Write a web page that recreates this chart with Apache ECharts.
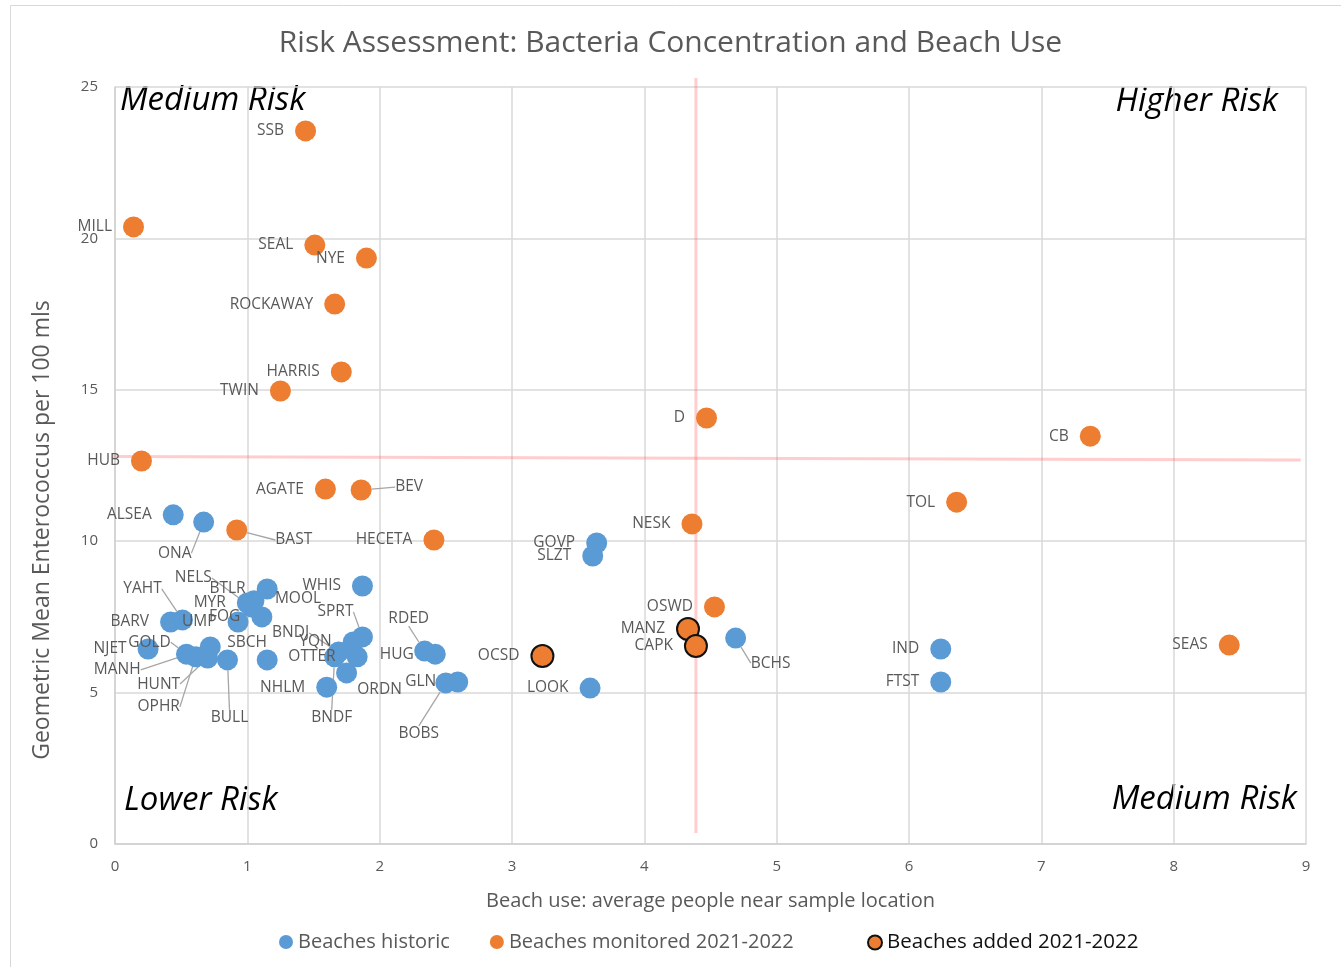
<!DOCTYPE html>
<html>
<head>
<meta charset="utf-8">
<script src="https://cdn.jsdelivr.net/npm/echarts@6/dist/echarts.min.js"></script>
<style>
  html, body { margin: 0; padding: 0; background: #fff; }
  #main { width: 1341px; height: 967px; }
</style>
</head>
<body>
<div id="main"></div>
<script>
// Beaches historic
var historicNames = ['ALSEA', 'ONA', 'GOVP', 'SLZT', 'WHIS', 'BTLR', 'MYR', 'NELS', 'MOOL', 'FOG',
  'UMP', 'BARV', 'YAHT', 'NJET', 'GOLD', 'OPHR', 'MANH', 'HUNT', 'BULL', 'SBCH',
  'NHLM', 'BNDF', 'BNDJ', 'YQN', 'OTTER', 'SPRT', 'ORDN', 'RDED', 'HUG', 'BOBS',
  'GLN', 'LOOK', 'BCHS', 'IND', 'FTST'];
var historicX = [0.44, 0.67, 3.64, 3.61, 1.87, 1.15, 1.00, 1.03, 1.05, 1.11,
  0.93, 0.42, 0.51, 0.25, 0.54, 0.61, 0.72, 0.70, 0.85, 1.15,
  1.60, 1.66, 1.69, 1.80, 1.83, 1.87, 1.75, 2.34, 2.42, 2.50,
  2.59, 3.59, 4.69, 6.24, 6.24];
var historicY = [10.87, 10.63, 9.94, 9.51, 8.52, 8.42, 7.96, 7.83, 8.03, 7.50,
  7.33, 7.33, 7.40, 6.44, 6.27, 6.18, 6.51, 6.14, 6.08, 6.08,
  5.18, 6.18, 6.34, 6.67, 6.18, 6.84, 5.65, 6.37, 6.27, 5.32,
  5.35, 5.15, 6.80, 6.44, 5.35];

// Beaches monitored 2021-2022
var monitoredNames = ['SSB', 'MILL', 'SEAL', 'NYE', 'ROCKAWAY', 'HARRIS', 'TWIN', 'HUB', 'AGATE', 'BEV',
  'BAST', 'HECETA', 'D', 'CB', 'TOL', 'NESK', 'OSWD', 'SEAS'];
var monitoredX = [1.44, 0.14, 1.51, 1.90, 1.66, 1.71, 1.25, 0.20, 1.59, 1.86,
  0.92, 2.41, 4.47, 7.37, 6.36, 4.36, 4.53, 8.42];
var monitoredY = [23.55, 20.38, 19.78, 19.35, 17.83, 15.59, 14.96, 12.65, 11.72, 11.69,
  10.37, 10.04, 14.07, 13.47, 11.29, 10.57, 7.83, 6.57];

// Beaches added 2021-2022
var addedNames = ['OCSD', 'MANZ', 'CAPK'];
var addedX = [3.23, 4.33, 4.39];
var addedY = [6.21, 7.10, 6.54];

// quadrant divider lines (from / to)
var splitV = [[4.39, 0.36], [4.39, 25.3]];
var splitH = [[-0.1, 12.80], [8.96, 12.68]];

var xTicks = [0, 1, 2, 3, 4, 5, 6, 7, 8, 9];
var yTicks = [0, 5, 10, 15, 20, 25];

// labels not placed on the left of their point: [dx, dy, leader line]
var labelShift = {
  BEV: [48, -3, true], BAST: [57, 10, true], ONA: [-29, 31, true],
  BCHS: [35, 25, true], RDED: [-16, -33, true], BOBS: [-27, 51, true],
  BULL: [2, 58, true], BNDF: [-3, 61, true], SPRT: [-27, -25, true],
  ORDN: [33, 17, false], NELS: [-58, -29, true], MOOL: [44, -2, false],
  YAHT: [-40, -31, true], GOLD: [-37, -12, true], MANH: [-93, 23, true],
  HUNT: [-49, 26, true], OPHR: [-37, 50, true], SBCH: [-20, -17, false],
  BNDJ: [-48, -19, true]
};

var FONT = '"Open Sans", "Noto Sans", sans-serif';
var GREY = '#595959';

function buildData(names, xs, ys) {
  return names.map(function (n, i) {
    var item = { name: n, value: [xs[i], ys[i]] };
    var s = labelShift[n];
    if (s && s[2]) {
      item.labelLine = { show: true };
    }
    return item;
  });
}

function placeLabel(params) {
  var s = labelShift[params.text];
  if (!s) return {};
  var cx = params.rect.x + params.rect.width / 2;
  var cy = params.rect.y + params.rect.height / 2;
  return { x: cx + s[0], y: cy + s[1], align: 'center', verticalAlign: 'middle' };
}

var pointLabel = {
  show: true,
  position: 'left',
  distance: 11,
  formatter: '{b}',
  color: GREY,
  fontSize: 15.5,
  fontFamily: FONT
};
var leader = { show: false, lineStyle: { color: '#a6a6a6', width: 1.3 } };

function splitLine(pts) {
  return {
    type: 'line',
    silent: true,
    clip: false,
    symbol: 'none',
    z: 1,
    lineStyle: { color: 'rgba(255, 90, 90, 0.3)', width: 3 },
    data: pts
  };
}

var chart = echarts.init(document.getElementById('main'));
var option = {
  animation: false,
  backgroundColor: '#fff',
  title: {
    text: 'Risk Assessment: Bacteria Concentration and Beach Use',
    left: 'center',
    top: 23,
    textStyle: { color: GREY, fontSize: 30, fontWeight: 'normal', fontFamily: FONT }
  },
  grid: { left: 115, right: 35, top: 87, bottom: 123 },
  legend: [
    {
      left: 274, top: 927,
      icon: 'circle', itemWidth: 14, itemHeight: 14, itemGap: 40,
      textStyle: { color: GREY, fontSize: 20, fontFamily: FONT },
      data: ['Beaches historic', 'Beaches monitored 2021-2022']
    },
    {
      left: 862, top: 927,
      icon: 'circle', itemWidth: 14, itemHeight: 14,
      textStyle: { color: '#111', fontSize: 20.5, fontFamily: FONT },
      data: ['Beaches added 2021-2022']
    }
  ],
  xAxis: {
    type: 'value',
    min: xTicks[0], max: xTicks[xTicks.length - 1], interval: 1,
    name: 'Beach use: average people near sample location',
    nameLocation: 'middle', nameGap: 47,
    nameTextStyle: { color: GREY, fontSize: 20, fontFamily: FONT },
    axisLine: { show: true, lineStyle: { color: '#d0d0d0', width: 1.5 } },
    axisTick: { show: false },
    axisLabel: { color: GREY, fontSize: 15, fontFamily: FONT, margin: 15 },
    splitLine: { show: true, lineStyle: { color: '#d9d9d9', width: 1.5 } }
  },
  yAxis: {
    type: 'value',
    min: yTicks[0], max: yTicks[yTicks.length - 1], interval: 5,
    axisLine: { show: true, lineStyle: { color: '#d0d0d0', width: 1.5 } },
    axisTick: { show: false },
    axisLabel: { color: GREY, fontSize: 15, fontFamily: FONT, margin: 17 },
    splitLine: { show: true, lineStyle: { color: '#d9d9d9', width: 1.5 } }
  },
  series: [
    splitLine(splitV),
    splitLine(splitH),
    {
      name: 'Beaches historic',
      type: 'scatter',
      symbolSize: 21,
      z: 3,
      itemStyle: { color: '#5b9bd5', opacity: 1 },
      label: pointLabel,
      labelLine: leader,
      labelLayout: placeLabel,
      data: buildData(historicNames, historicX, historicY)
    },
    {
      name: 'Beaches monitored 2021-2022',
      type: 'scatter',
      symbolSize: 21,
      z: 3,
      itemStyle: { color: '#ed7d31', opacity: 1 },
      label: pointLabel,
      labelLine: leader,
      labelLayout: placeLabel,
      data: buildData(monitoredNames, monitoredX, monitoredY)
    },
    {
      name: 'Beaches added 2021-2022',
      type: 'scatter',
      symbolSize: 22,
      z: 3,
      itemStyle: { color: '#ed7d31', borderColor: '#111', borderWidth: 2, opacity: 1 },
      label: pointLabel,
      labelLine: leader,
      labelLayout: placeLabel,
      data: buildData(addedNames, addedX, addedY)
    }
  ],
  graphic: [
    {
      type: 'rect', silent: true,
      shape: { x: 10.5, y: 5.5, width: 1340, height: 970 },
      style: { fill: 'none', stroke: '#d9d9d9', lineWidth: 1 }
    },
    {
      type: 'text', x: 42, y: 530, rotation: Math.PI / 2, silent: true,
      style: {
        text: 'Geometric Mean Enterococcus per 100 mls', fill: GREY,
        font: '23px ' + FONT, align: 'center', verticalAlign: 'middle'
      }
    },
    {
      type: 'text', left: 120, top: 84, silent: true,
      style: { text: 'Medium Risk', fill: '#000', font: 'italic 33px ' + FONT }
    },
    {
      type: 'text', right: 63, top: 85, silent: true,
      style: { text: 'Higher Risk', fill: '#000', font: 'italic 33px ' + FONT }
    },
    {
      type: 'text', left: 124, top: 784, silent: true,
      style: { text: 'Lower Risk', fill: '#000', font: 'italic 33px ' + FONT }
    },
    {
      type: 'text', right: 44, top: 783, silent: true,
      style: { text: 'Medium Risk', fill: '#000', font: 'italic 33px ' + FONT }
    }
  ]
};
chart.setOption(option);
</script>
</body>
</html>
